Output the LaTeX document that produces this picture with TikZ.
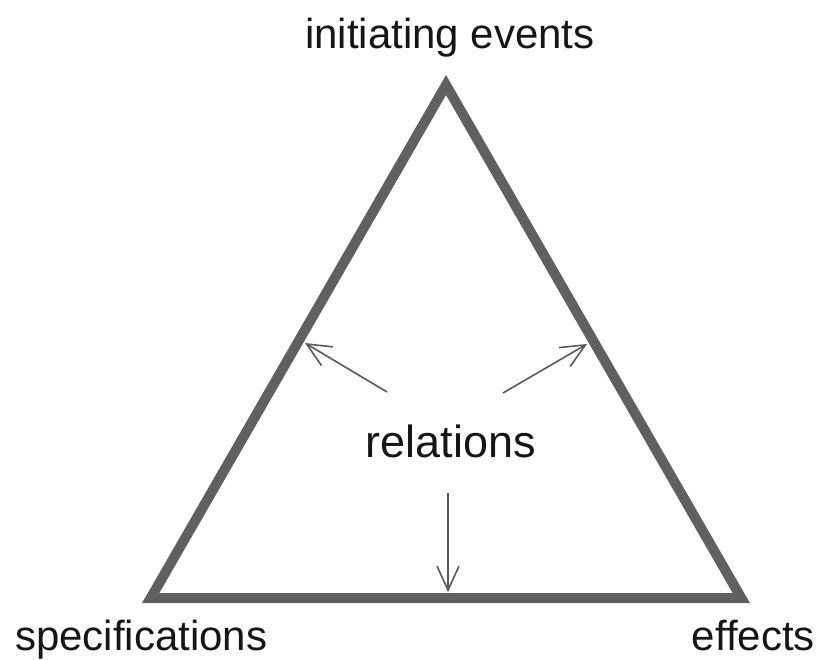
\documentclass[tikz,border=0pt]{standalone}
\usepackage{fontspec}
\setmainfont{Liberation Sans}
\usetikzlibrary{arrows.meta}
\definecolor{triedge}{HTML}{606060}
\definecolor{arrcol}{HTML}{585858}
\definecolor{txt}{HTML}{151515}
\tikzset{
  tri/.style={draw=triedge, line width=10pt, line join=miter},
  rel/.style={draw=arrcol, line width=1.6pt, -{Straight Barb[length=24pt,width=22pt,line width=1.6pt]}},
  lbl/.style={text=txt, inner sep=0pt, anchor=base, font=\fontsize{42}{50}\selectfont},
}
\begin{document}
\begin{tikzpicture}[x=1pt,y=-1pt]
\useasboundingbox (0,0) rectangle (819,659);
\coordinate (top) at (446,85);
\coordinate (bl) at (150.7,598);
\coordinate (br) at (741.3,598);
\draw[tri] (top) -- (br) -- (bl) -- cycle;
\node[lbl] (ie) at (450,48) {initiating events};
\node[lbl, anchor=base west] (spec) at (15,650) {specifications};
\node[lbl, anchor=base east] (eff) at (815,650) {effects};
\node[lbl, font=\fontsize{45}{52}\selectfont] (rel) at (451,457) {relations};
\coordinate (lt) at (387,392);
\coordinate (lh) at (305,343);
\coordinate (rt) at (503,393);
\coordinate (rh) at (587,344);
\coordinate (dt) at (448,493);
\coordinate (dh) at (448,592);
\draw[rel] (lt) -- (lh);
\draw[rel] (rt) -- (rh);
\draw[rel] (dt) -- (dh);
\end{tikzpicture}
\end{document}
